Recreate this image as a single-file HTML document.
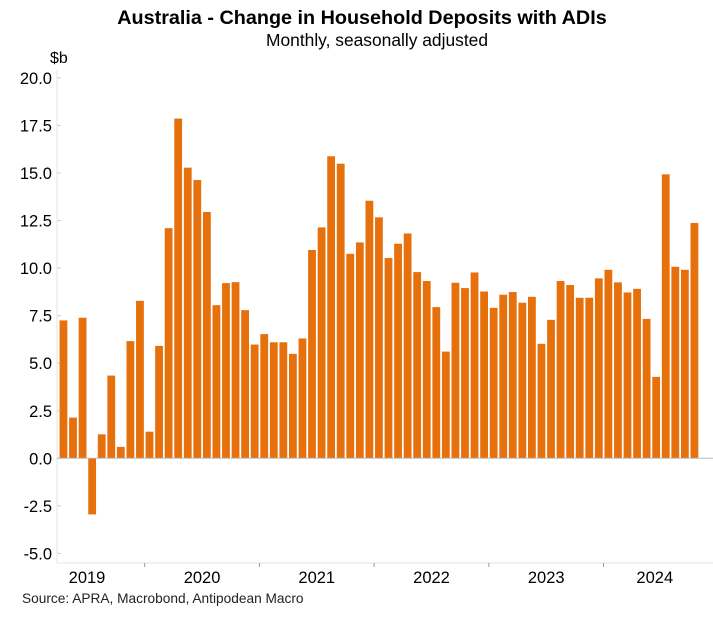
<!DOCTYPE html>
<html><head><meta charset="utf-8"><style>
body{margin:0;background:#fff;}
svg text{font-family:"Liberation Sans",Arial,sans-serif;}
</style></head><body>
<svg id="chart" width="713" height="614" xmlns="http://www.w3.org/2000/svg">
<text x="362" y="24" text-anchor="middle" font-size="19.8" font-weight="bold" fill="#000">Australia - Change in Household Deposits with ADIs</text>
<text x="377" y="46" text-anchor="middle" font-size="17.4" fill="#000">Monthly, seasonally adjusted</text>
<text x="50" y="63" font-size="16" fill="#000">$b</text>
<text x="22" y="603" font-size="13.7" fill="#222">Source: APRA, Macrobond, Antipodean Macro</text>
<g id="yaxis"></g>
<g id="xaxis"></g>
<g id="bars"></g>
</svg>
<script>
const yTicks = [-5, -2.5, 0, 2.5, 5, 7.5, 10, 12.5, 15, 17.5, 20];
const yTickLabels = ["-5.0","-2.5","0.0","2.5","5.0","7.5","10.0","12.5","15.0","17.5","20.0"];
const years = ["2019","2020","2021","2022","2023","2024"];
const startMonth = 3; // April 2019
const values = [
7.25,2.14,7.39,-2.95,1.26,4.35,0.6,6.16,8.28,
1.4,5.91,12.1,17.86,15.28,14.63,12.95,8.05,9.21,9.26,7.79,5.98,
6.53,6.1,6.1,5.49,6.3,10.95,12.14,15.88,15.49,10.75,11.35,13.54,
12.67,10.53,11.28,11.82,9.79,9.32,7.95,5.61,9.23,8.95,9.77,8.77,
7.91,8.6,8.74,8.18,8.49,6.02,7.28,9.32,9.11,8.44,8.44,9.46,
9.91,9.25,8.72,8.91,7.33,4.28,14.93,10.07,9.91,12.37
];
const NS="http://www.w3.org/2000/svg";
const plotL=57, plotR=703, axisY=563;
const y0=458.3, pxPerUnit=19.02;
function yScale(v){return y0 - v*pxPerUnit;}
const monthW=9.56, firstYearTick=144.7;
function xMonth(m){return firstYearTick - 12*monthW + m*monthW;}
function mk(tag,attrs,parent){const e=document.createElementNS(NS,tag);for(const k in attrs)e.setAttribute(k,attrs[k]);parent.appendChild(e);return e;}
const ya=document.getElementById('yaxis');
yTicks.forEach((t,i)=>{
  const y=yScale(t);
  const tx=mk('text',{x:52,y:y+6,'text-anchor':'end','font-size':16.5,fill:'#000'},ya);
  tx.textContent=yTickLabels[i];
  
  
  const tk=mk('line',{x1:plotL,x2:plotL+4,y1:y,y2:y,stroke:'#ccc','stroke-width':1},ya);
  
  
});
const yl=mk('line',{x1:plotL,x2:plotL,y1:70,y2:axisY,stroke:'#e6e6e6','stroke-width':1},ya);


const xa=document.getElementById('xaxis');
const xl=mk('line',{x1:plotL,x2:plotR+10,y1:axisY,y2:axisY,stroke:'#e6e6e6','stroke-width':1},xa);


years.forEach((yr,i)=>{
  const x0=Math.max(xMonth(i*12),plotL);
  const x1=Math.min(xMonth(i*12+12),plotR+3);
  const t=mk('text',{x:(i===0?87:(x0+x1)/2),y:583,'text-anchor':'middle','font-size':16.5,fill:'#000'},xa);
  t.textContent=yr;
  
  
  if(i>0){
    const tk=mk('line',{x1:xMonth(i*12),x2:xMonth(i*12),y1:axisY,y2:axisY+4,stroke:'#999','stroke-width':1},xa);
    
    
  }
});
const bg=document.getElementById('bars');
values.forEach((v,i)=>{
  const x=xMonth(startMonth+i)+0.9;
  const top=Math.min(yScale(v),y0), h=Math.abs(yScale(v)-y0);
  const r=mk('rect',{x:x,y:top,width:7.8,height:h,fill:'#E5700C'},bg);
  
  
});
const zl=mk('line',{x1:plotL,x2:plotR+10,y1:y0,y2:y0,stroke:'#b8b8b8','stroke-width':1},bg);


</script>
</body></html>
